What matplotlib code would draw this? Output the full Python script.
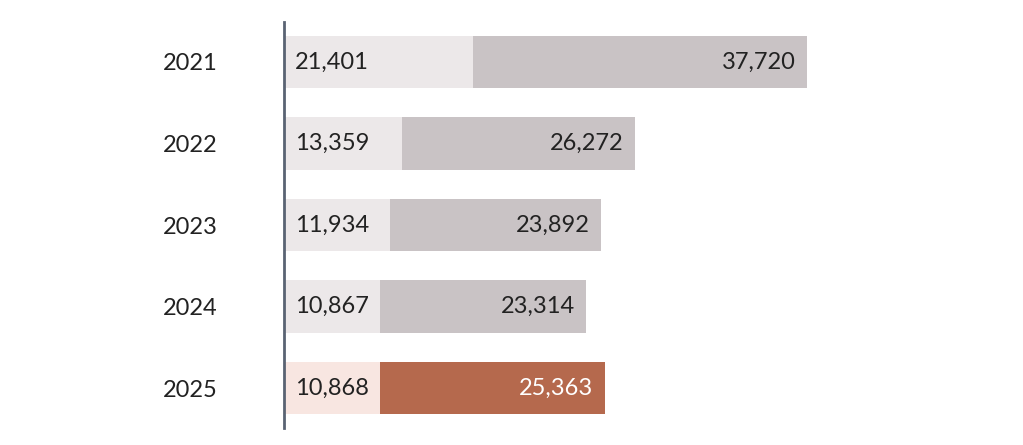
import matplotlib
matplotlib.use("Agg")
import matplotlib.pyplot as plt

years = ["2021", "2022", "2023", "2024", "2025"]
first = [21401, 13359, 11934, 10867, 10868]
second = [37720, 26272, 23892, 23314, 25363]

plt.rcParams['font.family'] = ['Lato', 'DejaVu Sans']
fig = plt.figure(figsize=(10.23, 4.45), dpi=100)
ax = fig.add_axes([284/1023, 1-428/445, 1-284/1023, 406/445])
ax.set_xlim(0, 83540)
ax.set_ylim(4.49, -0.49)

c1 = ["#ECE8E9"]*4 + ["#F8E6E1"]
c2 = ["#C9C3C5"]*4 + ["#B5694D"]
tc = ["#222222"]*4 + ["#FFFFFF"]
for i, y in enumerate(years):
    ax.barh(i, first[i], height=0.64, color=c1[i])
    ax.barh(i, second[i], left=first[i], height=0.64, color=c2[i])
    ax.text(1200, i, f"{first[i]:,}", va="center", ha="left", fontsize=17, color="#222222")
    ax.text(first[i]+second[i]-1300, i, f"{second[i]:,}", va="center", ha="right", fontsize=17, color=tc[i])

ax.set_yticks(range(5))
ax.set_yticklabels(years, fontsize=17, color="#222222")
ax.tick_params(axis='y', length=0, pad=48)
ax.set_xticks([])
for s in ["top", "right", "bottom"]:
    ax.spines[s].set_visible(False)
ax.spines["left"].set_color("#5A6373")
ax.spines["left"].set_linewidth(2)
fig.savefig("out.png", dpi=100)
